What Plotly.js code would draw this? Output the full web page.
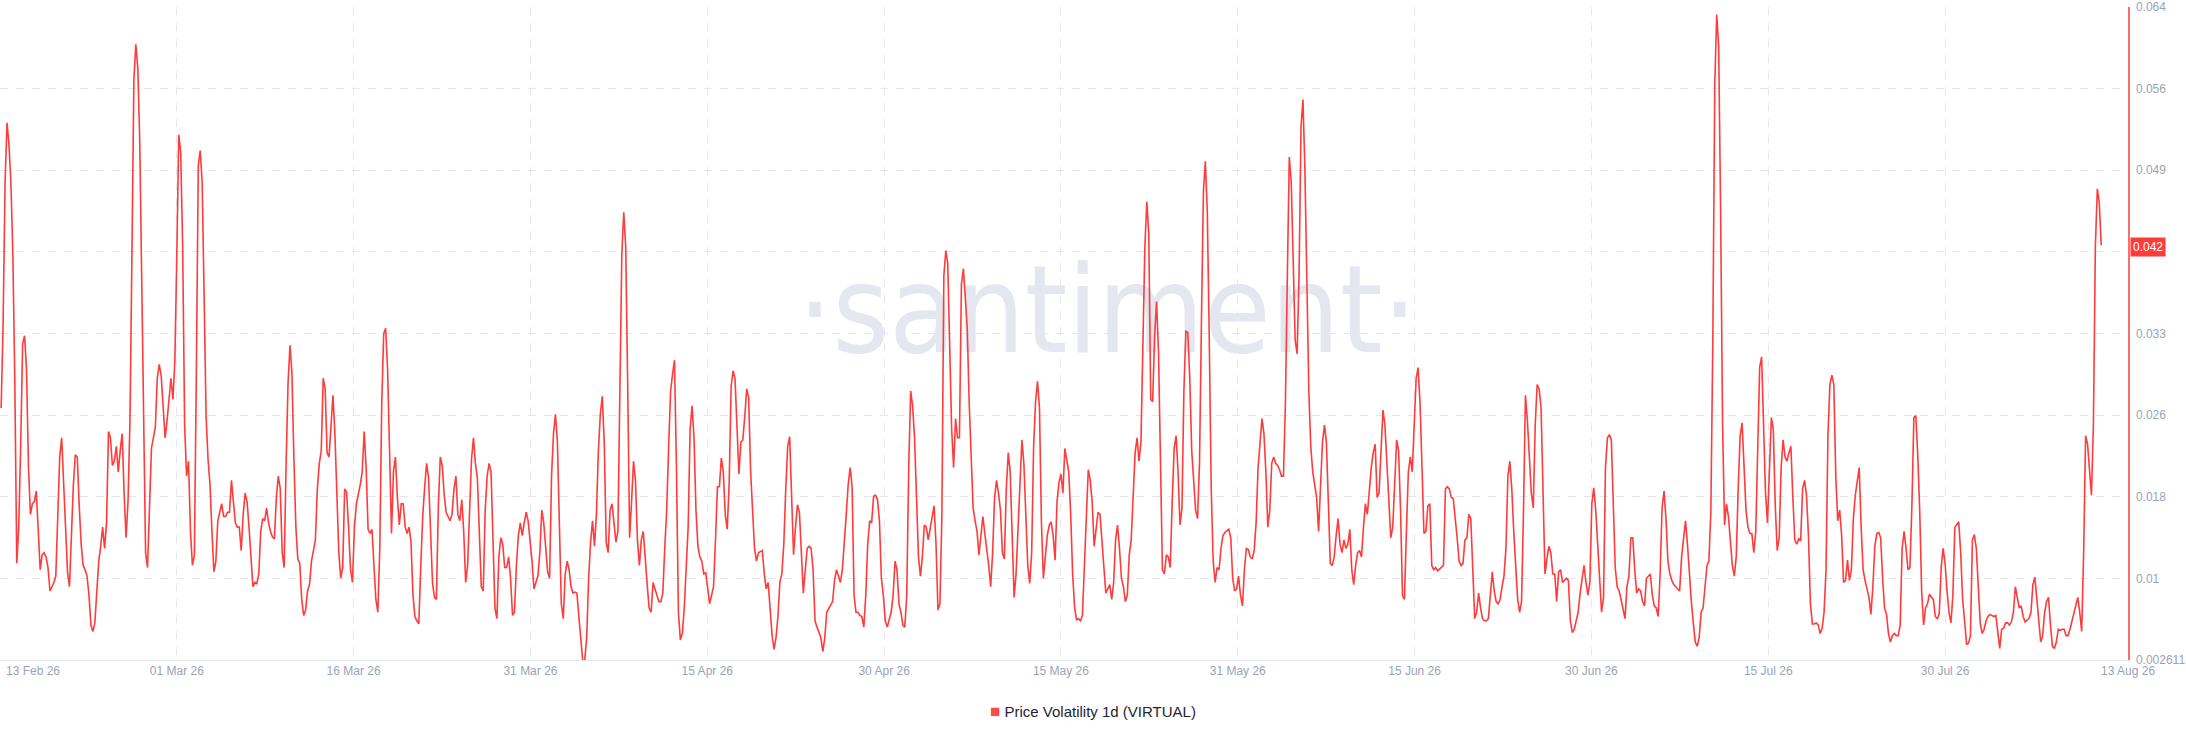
<!DOCTYPE html>
<html><head><meta charset="utf-8">
<script src="https://cdn.plot.ly/plotly-3.0.1.min.js"></script>
<style>html,body{margin:0;padding:0;background:#fff;}#chart{width:2186px;height:740px;}</style>
</head><body><div id="chart"></div>
<script>
const seriesName = 'Price Volatility 1d (VIRTUAL)';
const startTime = Date.UTC(2026, 1, 14, 0, 0, 0);
const stepHours = 4;

const volFebMar = [
0.0263,0.0343,0.0475,0.0531,0.0511,0.0475,0.0407,0.0287,0.0117,0.0151,
0.0227,0.0323,0.0331,0.0299,0.0207,0.0163,0.0173,0.0175,0.0185,0.0147,
0.0111,0.0125,0.0127,0.0123,0.0113,0.0091,0.0095,0.0099,0.0105,0.0167,
0.0217,0.0235,0.0195,0.0151,0.0109,0.0095,0.0143,0.0191,0.0219,0.0217,
0.0171,0.0135,0.0115,0.0111,0.0105,0.0087,0.0059,0.0053,0.0061,0.0091,
0.0119,0.0133,0.0151,0.0131,0.0155,0.0241,0.0235,0.0209,0.0213,0.0227,
0.0203,0.0223,0.0239,0.0183,0.0141,0.0175,0.0251,0.0407,0.0571,0.0605,
0.0583,0.0515,0.0371,0.0231,0.0127,0.0113,0.0167,0.0225,0.0235,0.0245,
0.0291,0.0304,0.0293,0.0263,0.0235,0.0251,0.0271,0.0291,0.0271,0.0307,
0.0407,0.0520,0.0503,0.0415,0.0247,0.0199,0.0213,0.0147,0.0115,0.0125,
0.0295,0.0491,0.0505,0.0475,0.0367,0.0255,0.0215,0.0191,0.0147,0.0109,
0.0119,0.0157,0.0165,0.0173,0.0161,0.0161,0.0165,0.0165,0.0195,0.0177,
0.0155,0.0151,0.0151,0.0129,0.0163,0.0183,0.0175,0.0151,0.0123,0.0095,
0.0099,0.0098,0.0107,0.0147,0.0159,0.0157,0.0169,0.0155,0.0147,0.0142,
0.0140,0.0179,0.0199,0.0187,0.0127,0.0113,0.0211,0.0287,0.0322,0.0295,
0.0215,0.0151,0.0121,0.0117,0.0083,0.0068,0.0073,0.0091,0.0097,0.0119,
0.0129,0.0139,0.0187,0.0211,0.0223,0.0291,0.0281,0.0221,0.0217,0.0243,
0.0275,0.0239,0.0187,0.0127,0.0103,0.0113,0.0187,0.0184,0.0151,0.0111,
0.0099,0.0151,0.0173,0.0181,0.0191,0.0203,0.0241];

const volMarApr = [
0.0207,0.0149,0.0145,0.0149,0.0115,0.0083,0.0071,0.0131,0.0267,0.0333,
0.0338,0.0299,0.0223,0.0145,0.0203,0.0217,0.0179,0.0153,0.0173,0.0173,
0.0151,0.0145,0.0151,0.0137,0.0087,0.0067,0.0063,0.0060,0.0115,0.0161,
0.0189,0.0211,0.0197,0.0143,0.0099,0.0085,0.0083,0.0171,0.0217,0.0209,
0.0181,0.0165,0.0161,0.0157,0.0163,0.0187,0.0199,0.0163,0.0157,0.0177,
0.0147,0.0099,0.0115,0.0159,0.0215,0.0235,0.0211,0.0197,0.0143,0.0095,
0.0091,0.0167,0.0199,0.0211,0.0203,0.0147,0.0075,0.0065,0.0123,0.0141,
0.0135,0.0113,0.0113,0.0123,0.0103,0.0068,0.0071,0.0115,0.0143,0.0155,
0.0143,0.0155,0.0165,0.0157,0.0141,0.0119,0.0093,0.0099,0.0105,0.0127,
0.0167,0.0155,0.0131,0.0109,0.0103,0.0199,0.0239,0.0257,0.0231,0.0155,
0.0079,0.0065,0.0107,0.0119,0.0111,0.0095,0.0089,0.0090,0.0089,0.0067,
0.0043,0.0025,0.0026,0.0047,0.0103,0.0137,0.0157,0.0133,0.0163,0.0223,
0.0257,0.0274,0.0231,0.0137,0.0127,0.0167,0.0173,0.0151,0.0137,0.0147,
0.0307,0.0407,0.0447,0.0415,0.0287,0.0141,0.0175,0.0213,0.0195,0.0139,
0.0115,0.0139,0.0147,0.0119,0.0097,0.0075,0.0071,0.0099,0.0093,0.0085,
0.0081,0.0081,0.0089,0.0131,0.0167,0.0227,0.0279,0.0295,0.0308,0.0207,
0.0071,0.0045,0.0051,0.0075,0.0107,0.0151,0.0243,0.0265,0.0235,0.0167,
0.0133,0.0123,0.0119,0.0107,0.0108,0.0091,0.0079,0.0087,0.0095,0.0139,
0.0189,0.0189];

const volAprMay = [
0.0216,0.0203,0.0163,0.0149,0.0191,0.0283,0.0298,0.0291,0.0251,0.0201,
0.0231,0.0233,0.0255,0.0281,0.0273,0.0203,0.0167,0.0131,0.0119,0.0127,
0.0128,0.0129,0.0107,0.0093,0.0099,0.0069,0.0049,0.0036,0.0047,0.0067,
0.0099,0.0107,0.0135,0.0187,0.0227,0.0236,0.0183,0.0125,0.0151,0.0172,
0.0165,0.0123,0.0089,0.0111,0.0131,0.0133,0.0131,0.0111,0.0063,0.0057,
0.0051,0.0047,0.0034,0.0047,0.0071,0.0074,0.0077,0.0081,0.0101,0.0111,
0.0105,0.0099,0.0111,0.0133,0.0163,0.0191,0.0207,0.0189,0.0087,0.0071,
0.0071,0.0068,0.0067,0.0057,0.0087,0.0135,0.0157,0.0155,0.0180,0.0181,
0.0177,0.0157,0.0103,0.0087,0.0063,0.0057,0.0065,0.0071,0.0087,0.0119,
0.0111,0.0079,0.0071,0.0059,0.0057,0.0087,0.0207,0.0279,0.0265,0.0235,
0.0179,0.0123,0.0105,0.0123,0.0153,0.0151,0.0139,0.0149,0.0161,0.0171,
0.0135,0.0073,0.0079,0.0163,0.0387,0.0411,0.0399,0.0319,0.0243,0.0207,
0.0253,0.0235,0.0235,0.0379,0.0394,0.0367,0.0337,0.0267,0.0207,0.0169,
0.0157,0.0147,0.0125,0.0147,0.0161,0.0145,0.0131,0.0115,0.0095,0.0127,
0.0179,0.0195,0.0183,0.0167,0.0127,0.0121,0.0187,0.0221,0.0203,0.0135,
0.0085,0.0107,0.0147,0.0195,0.0233,0.0211,0.0155,0.0115,0.0098,0.0127,
0.0227,0.0269,0.0288,0.0263,0.0155,0.0103,0.0123,0.0143,0.0153,0.0156,
0.0143,0.0120,0.0175,0.0193,0.0201,0.0183,0.0225,0.0215,0.0203,0.0163,
0.0107,0.0075];

const volMayJun = [
0.0064,0.0065,0.0063,0.0068,0.0119,0.0167,0.0205,0.0195,0.0175,0.0133,
0.0151,0.0165,0.0163,0.0137,0.0107,0.0089,0.0093,0.0097,0.0083,0.0099,
0.0139,0.0153,0.0131,0.0103,0.0095,0.0081,0.0087,0.0125,0.0139,0.0175,
0.0221,0.0235,0.0213,0.0231,0.0327,0.0415,0.0457,0.0427,0.0271,0.0269,
0.0331,0.0363,0.0315,0.0207,0.0111,0.0107,0.0125,0.0123,0.0113,0.0175,
0.0225,0.0237,0.0203,0.0153,0.0169,0.0279,0.0335,0.0334,0.0291,0.0223,
0.0191,0.0167,0.0159,0.0211,0.0347,0.0467,0.0495,0.0447,0.0327,0.0187,
0.0119,0.0099,0.0113,0.0111,0.0131,0.0143,0.0146,0.0148,0.0149,0.0141,
0.0103,0.0091,0.0093,0.0105,0.0087,0.0077,0.0111,0.0131,0.0130,0.0123,
0.0121,0.0129,0.0155,0.0207,0.0233,0.0253,0.0239,0.0203,0.0151,0.0167,
0.0211,0.0217,0.0211,0.0209,0.0205,0.0199,0.0199,0.0267,0.0387,0.0499,
0.0475,0.0407,0.0327,0.0314,0.0387,0.0527,0.0553,0.0487,0.0359,0.0279,
0.0227,0.0203,0.0191,0.0179,0.0147,0.0187,0.0231,0.0247,0.0231,0.0175,
0.0117,0.0115,0.0123,0.0143,0.0159,0.0135,0.0127,0.0139,0.0131,0.0135,
0.0149,0.0111,0.0097,0.0115,0.0127,0.0129,0.0123,0.0151,0.0173,0.0163,
0.0187,0.0207,0.0221,0.0229,0.0179,0.0183,0.0223,0.0261,0.0247,0.0211,
0.0171,0.0141,0.0151,0.0195,0.0233,0.0223,0.0167,0.0087,0.0083,0.0147,
0.0203,0.0217,0.0203,0.0247,0.0291,0.0301,0.0267,0.0207,0.0145,0.0147,
0.0171,0.0173];

const volJunJul = [
0.0115,0.0111,0.0113,0.0110,0.0112,0.0113,0.0115,0.0187,0.0189,0.0187,
0.0179,0.0178,0.0161,0.0141,0.0119,0.0115,0.0117,0.0139,0.0141,0.0163,
0.0159,0.0115,0.0065,0.0071,0.0089,0.0075,0.0065,0.0063,0.0063,0.0065,
0.0091,0.0109,0.0091,0.0081,0.0079,0.0083,0.0095,0.0105,0.0131,0.0199,
0.0213,0.0187,0.0147,0.0115,0.0083,0.0071,0.0081,0.0167,0.0275,0.0251,
0.0217,0.0183,0.0169,0.0247,0.0285,0.0281,0.0263,0.0179,0.0107,0.0121,
0.0133,0.0127,0.0107,0.0107,0.0081,0.0109,0.0111,0.0099,0.0101,0.0103,
0.0101,0.0063,0.0052,0.0055,0.0063,0.0071,0.0089,0.0105,0.0115,0.0099,
0.0087,0.0099,0.0173,0.0188,0.0167,0.0135,0.0099,0.0071,0.0085,0.0207,
0.0235,0.0238,0.0233,0.0167,0.0113,0.0095,0.0091,0.0083,0.0075,0.0065,
0.0095,0.0105,0.0141,0.0141,0.0111,0.0089,0.0093,0.0091,0.0081,0.0077,
0.0103,0.0105,0.0107,0.0087,0.0077,0.0075,0.0067,0.0107,0.0169,0.0185,
0.0159,0.0119,0.0107,0.0101,0.0097,0.0095,0.0093,0.0091,0.0123,0.0141,
0.0157,0.0135,0.0105,0.0081,0.0061,0.0043,0.0039,0.0047,0.0071,0.0075,
0.0095,0.0115,0.0119,0.0167,0.0327,0.0567,0.0633,0.0603,0.0447,0.0247,
0.0153,0.0173,0.0161,0.0139,0.0115,0.0105,0.0123,0.0187,0.0237,0.0249,
0.0207,0.0167,0.0151,0.0145,0.0145,0.0127,0.0147,0.0231,0.0301,0.0311,
0.0247,0.0183,0.0155,0.0215,0.0254,0.0243,0.0171,0.0129,0.0141,0.0207,
0.0233,0.0217];

const volJulAug = [
0.0213,0.0221,0.0227,0.0179,0.0139,0.0135,0.0140,0.0138,0.0187,0.0195,
0.0181,0.0143,0.0079,0.0060,0.0060,0.0061,0.0059,0.0051,0.0056,0.0071,
0.0111,0.0239,0.0285,0.0294,0.0285,0.0199,0.0157,0.0167,0.0143,0.0099,
0.0101,0.0120,0.0101,0.0111,0.0159,0.0181,0.0195,0.0207,0.0151,0.0111,
0.0101,0.0093,0.0085,0.0069,0.0095,0.0133,0.0145,0.0146,0.0141,0.0103,
0.0075,0.0069,0.0051,0.0043,0.0049,0.0051,0.0049,0.0049,0.0059,0.0131,
0.0147,0.0131,0.0111,0.0113,0.0171,0.0254,0.0256,0.0219,0.0167,0.0091,
0.0059,0.0075,0.0079,0.0088,0.0085,0.0083,0.0067,0.0065,0.0069,0.0113,
0.0131,0.0117,0.0091,0.0071,0.0061,0.0087,0.0151,0.0153,0.0156,0.0127,
0.0083,0.0063,0.0041,0.0042,0.0049,0.0139,0.0144,0.0131,0.0095,0.0061,
0.0051,0.0055,0.0063,0.0067,0.0069,0.0068,0.0067,0.0068,0.0051,0.0037,
0.0055,0.0056,0.0061,0.0061,0.0059,0.0062,0.0071,0.0095,0.0085,0.0075,
0.0077,0.0067,0.0062,0.0064,0.0065,0.0071,0.0097,0.0104,0.0083,0.0061,
0.0043,0.0049,0.0071,0.0081,0.0085,0.0059,0.0039,0.0037,0.0043,0.0055,
0.0054,0.0055,0.0055,0.0049,0.0049,0.0055,0.0063,0.0068,0.0079,0.0085,
0.0071,0.0053,0.0127,0.0237,0.0229,0.0203,0.0181,0.0247,0.0415,0.0469,
0.0456,0.0416];

const yTickVals = [0.002611, 0.010285, 0.017958, 0.025632, 0.033306, 0.040979, 0.048653, 0.056326, 0.064];
const yTickText = ['0.002611', '0.01', '0.018', '0.026', '0.033', '0.041', '0.049', '0.056', '0.064'];
const xTickVals = ['2026-03-01 00:00', '2026-03-16 02:24', '2026-03-31 04:48', '2026-04-15 07:12', '2026-04-30 09:36',
  '2026-05-15 12:00', '2026-05-30 14:24', '2026-06-14 16:48', '2026-06-29 19:12', '2026-07-14 21:36', '2026-07-30 00:00'];
const xTickText = ['01 Mar 26', '16 Mar 26', '31 Mar 26', '15 Apr 26', '30 Apr 26', '15 May 26',
  '31 May 26', '15 Jun 26', '30 Jun 26', '15 Jul 26', '30 Jul 26'];
const edgeLabels = ['13 Feb 26', '13 Aug 26'];
const watermarkText = '\u00b7santiment\u00b7';

// ---- build ----
const volatility = [].concat(volFebMar, volMarApr, volAprMay, volMayJun, volJunJul, volJulAug);
function fmt(ms) { return new Date(ms).toISOString().slice(0, 19).replace('T', ' '); }
const times = volatility.map((_, i) => fmt(startTime + i * stepHours * 3600e3));

const xRange = ['2026-02-13 21:38:00', '2026-08-14 14:54:00'];
const yRange = [0.002611, 0.064];
const xr0 = Date.parse(xRange[0].replace(' ', 'T') + 'Z');
const xr1 = Date.parse(xRange[1].replace(' ', 'T') + 'Z');

const RED = '#ff3b3b';
const TICK = '#9aa3b6';
const GRID = '#e4e7f0';
const FONT = 'Liberation Sans, Arial, sans-serif';

const lastVal = volatility[volatility.length - 1];

const watermark = {
  type: 'scatter', mode: 'text',
  x: [fmt(xr0 + 0.5204 * (xr1 - xr0))],
  y: [yRange[0] + 0.5176 * (yRange[1] - yRange[0])],
  text: [watermarkText],
  textposition: 'middle center',
  textfont: { family: 'DejaVu Sans Condensed, DejaVu Sans, sans-serif', size: 121, color: '#e4e6f0' },
  hoverinfo: 'skip', showlegend: false, cliponaxis: false
};

const line = {
  type: 'scatter', mode: 'lines', name: seriesName,
  x: times, y: volatility,
  line: { color: RED, width: 1.6 },
  hoverinfo: 'skip', showlegend: false
};

const layout = {
  width: 2186, height: 740,
  margin: { l: 0, r: 58, t: 7, b: 80 },
  paper_bgcolor: '#ffffff', plot_bgcolor: '#ffffff',
  showlegend: false,
  xaxis: {
    type: 'date', range: xRange,
    tickmode: 'array', tickvals: xTickVals, ticktext: xTickText,
    showgrid: true, gridcolor: GRID, griddash: '8px,8px', gridwidth: 1,
    showline: true, linecolor: '#e3e6ee', linewidth: 1,
    ticks: '', zeroline: false,
    tickfont: { family: FONT, size: 12, color: TICK }
  },
  yaxis: {
    side: 'right', range: yRange,
    tickmode: 'array', tickvals: yTickVals, ticktext: yTickText,
    showgrid: true, gridcolor: GRID, griddash: '8px,8px', gridwidth: 1,
    showline: true, linecolor: 'rgba(255,70,70,0.8)', linewidth: 1.5,
    ticks: 'outside', ticklen: 4, tickcolor: 'rgba(0,0,0,0)',
    zeroline: false,
    tickfont: { family: FONT, size: 12, color: TICK }
  },
  annotations: [
    { xref: 'paper', yref: 'paper', x: 4 / 2128, y: 0, xanchor: 'left', yanchor: 'top', yshift: -2,
      text: edgeLabels[0], showarrow: false, font: { family: FONT, size: 12, color: TICK } },
    { xref: 'paper', yref: 'paper', x: 1, y: 0, xanchor: 'center', yanchor: 'top', yshift: -2,
      text: edgeLabels[1], showarrow: false, font: { family: FONT, size: 12, color: TICK } },
    { xref: 'paper', yref: 'y', x: 1, y: lastVal, xanchor: 'left', yanchor: 'middle', xshift: 2, yshift: -2,
      text: lastVal.toFixed(3), showarrow: false, bgcolor: RED, borderpad: 2,
      font: { family: FONT, size: 12, color: '#ffffff' } },
    { xref: 'paper', yref: 'paper', x: 0.5136, y: -0.0796, xanchor: 'center', yanchor: 'middle',
      text: '<span style="color:#ff4a4a;font-size:17px">\u25a0</span> ' + seriesName, showarrow: false,
      font: { family: FONT, size: 15, color: '#1f2433' } }
  ]
};

Plotly.newPlot('chart', [watermark, line], layout, { staticPlot: true, displayModeBar: false });
</script>
</body></html>
